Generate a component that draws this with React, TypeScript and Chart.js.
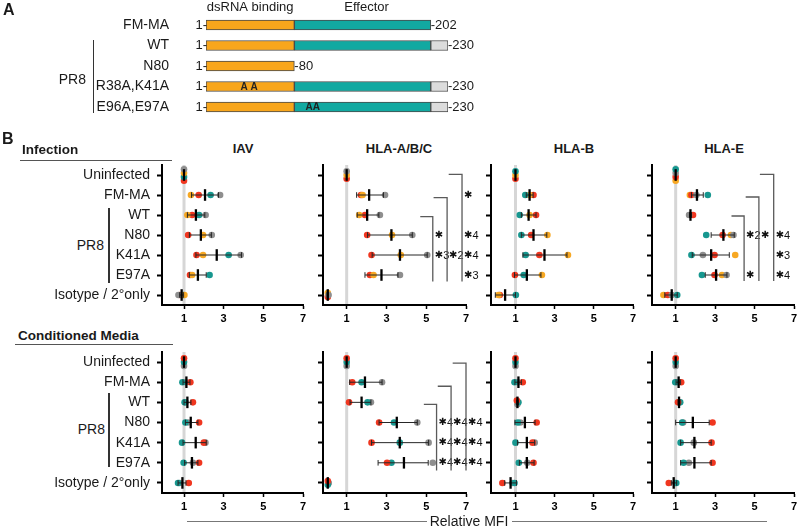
import React, { useEffect, useRef } from 'react';
import { Chart, registerables, LinearScale } from 'chart.js';

Chart.register(...registerables);

const FONT = '"Liberation Sans", Arial, Helvetica, sans-serif';
const TEXT = '#1a1a1a';

// ---------------- Panel A: NS1 constructs ----------------
const constructNames = ['FM-MA', 'WT', 'N80', 'R38A,K41A', 'E96A,E97A'];
const dsrnaDomain = [[1, 80], [1, 80], [1, 80], [1, 80], [1, 80]];
const effectorDomain = [[80, 202], [80, 202], null, [80, 202], [80, 202]];
const tailDomain = [null, [202, 230], null, [202, 230], [202, 230]];
const constructLength = [202, 230, 80, 230, 230];
const mutationSites = [null, null, null, [38, 41], [96, 97]];
const mutationText = [null, null, null, 'A A', 'AA'];
const domainNames = ['dsRNA binding', 'Effector'];

// the C-terminal tail is drawn compressed in the schematic
const TAIL_START = 202;
const TAIL_SCALE = 0.55;
const squeeze = (v: number) => (v > TAIL_START ? TAIL_START + (v - TAIL_START) * TAIL_SCALE : v);

class SchematicScale extends LinearScale {
  static id = 'schematic';
  static defaults = LinearScale.defaults;
  getPixelForValue(value: number) {
    return super.getPixelForValue(squeeze(value));
  }
}
Chart.register(SchematicScale as any);

// ---------------- Panel B: Relative MFI ----------------
const rowLabels = ['Uninfected', 'FM-MA', 'WT', 'N80', 'K41A', 'E97A', 'Isotype / 2°only'];
const xTicks = [1, 3, 5, 7];
const markerNames = ['IAV', 'HLA-A/B/C', 'HLA-B', 'HLA-E'];

// Infection – IAV
const infIavGray = [1, 2.82, 2.09, 2.4, 3.86, null, 0.72];
const infIavOrange = [1, 1.35, 1.17, 1.96, 1.96, 1.41, 1.02];
const infIavRed = [1, 1.74, 1.41, 1.21, 1.63, 1.3, 0.8];
const infIavTeal = [1, 2.34, 1.76, null, 3.25, 2.29, 0.96];
const infIavMean = [1, 2.06, 1.6, 1.85, 2.65, 1.7, 0.88];
const infIavLow = [1, 1.38, 1.17, 1.27, 1.6, 1.27, 0.78];
const infIavHigh = [1, 2.74, 2.05, 2.38, 3.9, 2.12, 0.98];

// Infection – HLA-A/B/C
const infAbcGray = [1, 2.93, 2.67, 4.3, 5.05, 3.68, 0.09];
const infAbcOrange = [1, 1.8, 1.63, 3.28, 3.72, 2.35, 0.05];
const infAbcRed = [1, 1.72, 1.92, 2.03, 2.25, 2.17, 0.05];
const infAbcMean = [1, 2.13, 2.03, 3.25, 3.68, 2.75, 0.05];
const infAbcLow = [1, 1.5, 1.53, 2.05, 2.28, 1.92, 0.02];
const infAbcHigh = [1, 2.85, 2.62, 4.3, 5.05, 3.58, 0.08];

// Infection – HLA-B
const infBTeal = [1, 1.5, 1.22, 1.3, 1.52, 1.42, 1.02];
const infBOrange = [1, 1.72, 1.72, 2.63, 3.68, 2.35, 0.13];
const infBRed = [1, 1.92, 2.05, 1.8, 2.22, 0.97, 0.2];
const infBMean = [1, 1.72, 1.67, 1.92, 2.48, 1.58, 0.47];
const infBLow = [1, 1.55, 1.3, 1.3, 1.38, 0.95, -0.03];
const infBHigh = [1, 1.9, 2.05, 2.6, 3.63, 2.3, 1.0];

// Infection – HLA-E
const infETeal = [1, 2.63, null, 2.55, 1.8, 2.33, 1.08];
const infEGray = [1, 2.05, 1.68, 3.93, 2.38, 3.58, 0.8];
const infERed = [1, 1.8, 1.88, 3.38, 2.97, 2.97, 0.6];
const infEOrange = [1, 1.72, null, 3.8, 4.02, 3.35, 0.38];
const infEMean = [1, 2.08, 1.75, 3.42, 2.8, 3.05, 0.8];
const infELow = [1, 1.8, 1.7, 2.8, 1.84, 2.5, 0.45];
const infEHigh = [1, 2.4, 1.8, 3.97, 3.72, 3.6, 1.08];

// Conditioned media – IAV
const cmIavRed = [1, 1.32, 1.45, 1.76, 2.0, 1.76, 1.24];
const cmIavTeal = [1, 0.92, 1.03, 1.07, 0.9, 0.98, 0.7];
const cmIavGray = [1, 1.1, 1.08, 1.2, 2.08, 1.45, 0.78];
const cmIavMean = [1, 1.12, 1.17, 1.34, 1.59, 1.4, 0.92];
const cmIavLow = [1, 0.95, 1.0, 1.07, 0.95, 1.03, 0.7];
const cmIavHigh = [1, 1.3, 1.35, 1.7, 2.12, 1.7, 1.1];

// Conditioned media – HLA-A/B/C
const cmAbcRed = [1, 1.28, 1.12, 2.63, 2.25, 3.03, 0.05];
const cmAbcTeal = [1, 1.75, 2.05, 3.38, 3.67, 3.25, 0.05];
const cmAbcGray = [1, 2.78, 2.22, 4.55, 5.12, 5.33, 0.1];
const cmAbcMean = [1, 1.92, 1.75, 3.52, 3.67, 3.88, 0.05];
const cmAbcLow = [1, 1.15, 1.17, 2.63, 2.25, 2.58, 0.03];
const cmAbcHigh = [1, 2.78, 2.22, 4.55, 5.12, 5.1, 0.08];

// Conditioned media – HLA-B
const cmBRed = [1, 1.37, 1.07, 2.08, 1.87, 1.92, 0.33];
const cmBTeal = [1, 0.95, 1.15, 1.12, 1.0, 1.17, 0.95];
const cmBGray = [1, 1.12, 1.1, 1.25, 1.98, 1.6, 0.85];
const cmBMean = [1, 1.15, 1.1, 1.48, 1.58, 1.58, 0.75];
const cmBLow = [1, 0.97, 1.05, 0.97, 1.1, 1.2, 0.45];
const cmBHigh = [1, 1.3, 1.15, 2.0, 1.98, 1.95, 1.05];

// Conditioned media – HLA-E
const cmERed = [1, 1.28, 1.12, 2.87, 2.82, 2.87, 0.65];
const cmETeal = [1, 0.98, 1.23, 1.33, 1.25, 1.4, 1.03];
const cmEGray = [1, 1.1, 1.18, 1.38, 1.92, 1.67, 0.98];
const cmEMean = [1, 1.15, 1.17, 1.87, 1.95, 1.95, 0.9];
const cmELow = [1, 1.02, 1.12, 1.0, 1.25, 1.25, 0.78];
const cmEHigh = [1, 1.25, 1.22, 2.7, 2.8, 2.8, 1.05];

// Significance brackets: arm from/to (row), arm start (MFI), vertical at (MFI), stars [row, label]
const infAbcBrackets = [
  { top: 2.08, bottom: 5.33, armFrom: 4.7, at: 5.33, stars: [[3, ''], [4, '3']] },
  { top: 1.13, bottom: 5.33, armFrom: 5.37, at: 6.05, stars: [[4, '2']] },
  { top: -0.03, bottom: 5.33, armFrom: 6.13, at: 6.8, stars: [[1, ''], [3, '4'], [4, '4'], [5, '3']] },
];
const infEBrackets = [
  { top: 2.05, bottom: 5.3, armFrom: 3.83, at: 4.47, stars: [[3, '2'], [5, '']] },
  { top: 1.1, bottom: 5.3, armFrom: 4.55, at: 5.22, stars: [[3, '']] },
  { top: -0.03, bottom: 5.3, armFrom: 5.27, at: 5.97, stars: [[3, '4'], [4, '3'], [5, '4']] },
];
const cmAbcBrackets = [
  { top: 2.1, bottom: 5.38, armFrom: 4.88, at: 5.52, stars: [[3, '4'], [4, '4'], [5, '4']] },
  { top: 1.2, bottom: 5.38, armFrom: 5.58, at: 6.25, stars: [[3, '4'], [4, '4'], [5, '4']] },
  { top: 0.05, bottom: 5.38, armFrom: 6.33, at: 7.0, stars: [[3, '4'], [4, '4'], [5, '4']] },
];

const COLORS: any = { gray: '#8e8e8e', orange: '#f7a823', red: '#f0361f', teal: '#17978f' };

const columns = [
  { axisX: 162, right: 303, xMin: -0.11, padRight: 16 },
  { axisX: 323, right: 466, xMin: -0.19, padRight: 22 },
  { axisX: 491, right: 633, xMin: -0.25, padRight: 8 },
  { axisX: 652, right: 794, xMin: -0.2, padRight: 6 },
];
const panelRows = [
  { top: 165, bottom: 305 },
  { top: 352, bottom: 493 },
];

const plots = [
  { row: 0, col: 0, series: { gray: infIavGray, orange: infIavOrange, teal: infIavTeal, red: infIavRed }, stack: ['gray', 'orange', 'teal', 'red'], mean: infIavMean, low: infIavLow, high: infIavHigh, brackets: [] },
  { row: 0, col: 1, series: { gray: infAbcGray, orange: infAbcOrange, red: infAbcRed }, stack: ['gray', 'orange', 'red'], mean: infAbcMean, low: infAbcLow, high: infAbcHigh, brackets: infAbcBrackets },
  { row: 0, col: 2, series: { teal: infBTeal, orange: infBOrange, red: infBRed }, stack: ['teal', 'orange', 'red'], mean: infBMean, low: infBLow, high: infBHigh, brackets: [] },
  { row: 0, col: 3, series: { teal: infETeal, gray: infEGray, red: infERed, orange: infEOrange }, stack: ['teal', 'gray', 'red', 'orange'], mean: infEMean, low: infELow, high: infEHigh, brackets: infEBrackets },
  { row: 1, col: 0, series: { red: cmIavRed, teal: cmIavTeal, gray: cmIavGray }, stack: ['red', 'teal', 'gray'], mean: cmIavMean, low: cmIavLow, high: cmIavHigh, brackets: [] },
  { row: 1, col: 1, series: { red: cmAbcRed, teal: cmAbcTeal, gray: cmAbcGray }, stack: ['red', 'teal', 'gray'], mean: cmAbcMean, low: cmAbcLow, high: cmAbcHigh, brackets: cmAbcBrackets },
  { row: 1, col: 2, series: { red: cmBRed, teal: cmBTeal, gray: cmBGray }, stack: ['red', 'teal', 'gray'], mean: cmBMean, low: cmBLow, high: cmBHigh, brackets: [] },
  { row: 1, col: 3, series: { red: cmERed, teal: cmETeal, gray: cmEGray }, stack: ['red', 'teal', 'gray'], mean: cmEMean, low: cmELow, high: cmEHigh, brackets: [] },
];

const STACK_STEP = 0.19; // rows between stacked identical points

function buildDatasets(p: any) {
  const names: string[] = p.stack;
  const out: any = {};
  names.forEach((n) => (out[n] = []));
  rowLabels.forEach((_, r) => {
    const present = names
      .map((n) => ({ n, v: p.series[n][r] }))
      .filter((q) => q.v !== null && q.v !== undefined);
    const groups: any[] = [];
    present.forEach((q) => {
      const g = groups.find((gg) => Math.abs(gg[0].v - q.v) < 0.035);
      if (g) g.push(q);
      else groups.push([q]);
    });
    groups.forEach((g) =>
      g.forEach((q: any, i: number) => {
        out[q.n].push({ x: q.v, y: r + (i - (g.length - 1) / 2) * STACK_STEP });
      })
    );
  });
  return names.map((n) => ({
    label: n,
    data: out[n],
    backgroundColor: COLORS[n],
    borderWidth: 0,
    pointRadius: 3.3,
    pointHoverRadius: 3.3,
    clip: false,
  }));
}

function drawStar(ctx: CanvasRenderingContext2D, x: number, y: number, n: string) {
  ctx.font = '10px "DejaVu Sans", sans-serif';
  ctx.textAlign = 'left';
  ctx.textBaseline = 'middle';
  ctx.fillStyle = '#111';
  ctx.fillText('✱', x, y);
  const w = ctx.measureText('✱').width;
  if (n) {
    ctx.font = `11px ${FONT}`;
    ctx.fillText(n, x + w, y + 0.5);
  }
}

function makePlotPlugin(p: any) {
  return {
    id: 'mfiMarks',
    beforeDatasetsDraw(chart: any) {
      const { ctx, chartArea } = chart;
      const xs = chart.scales.x;
      const x1 = xs.getPixelForValue(1);
      ctx.save();
      ctx.strokeStyle = '#d6d6d6';
      ctx.lineWidth = 3;
      ctx.beginPath();
      ctx.moveTo(x1, chartArea.top);
      ctx.lineTo(x1, chartArea.bottom - 1);
      ctx.stroke();
      ctx.restore();
    },
    afterDatasetsDraw(chart: any) {
      const { ctx } = chart;
      const xs = chart.scales.x;
      const ys = chart.scales.y;
      ctx.save();
      rowLabels.forEach((_, r) => {
        const y = ys.getPixelForValue(r);
        const lo = p.low[r];
        const hi = p.high[r];
        if (hi > lo) {
          const a = xs.getPixelForValue(lo);
          const b = xs.getPixelForValue(hi);
          ctx.strokeStyle = '#262626';
          ctx.lineWidth = 1;
          ctx.beginPath();
          ctx.moveTo(a, y);
          ctx.lineTo(b, y);
          ctx.moveTo(a, y - 2.8);
          ctx.lineTo(a, y + 2.8);
          ctx.moveTo(b, y - 2.8);
          ctx.lineTo(b, y + 2.8);
          ctx.stroke();
        }
        const m = xs.getPixelForValue(p.mean[r]);
        ctx.strokeStyle = '#000';
        ctx.lineWidth = 2.3;
        ctx.beginPath();
        ctx.moveTo(m, y - 5.8);
        ctx.lineTo(m, y + 5.8);
        ctx.stroke();
      });
      p.brackets.forEach((b: any) => {
        const xl = xs.getPixelForValue(b.armFrom);
        const xv = xs.getPixelForValue(b.at);
        const yt = ys.getPixelForValue(b.top);
        const yb = ys.getPixelForValue(b.bottom);
        ctx.strokeStyle = '#5a5a5a';
        ctx.lineWidth = 1.3;
        ctx.beginPath();
        ctx.moveTo(xl, yt);
        ctx.lineTo(xv, yt);
        ctx.lineTo(xv, yb);
        ctx.stroke();
        b.stars.forEach((s: any) => drawStar(ctx, xv + 2, ys.getPixelForValue(s[0]), s[1]));
      });
      ctx.restore();
    },
  };
}

function Subplot({ p }: any) {
  const ref = useRef<HTMLCanvasElement>(null);
  const col = columns[p.col];
  const geo = panelRows[p.row];
  const showLabels = p.col === 0;
  const yW = showLabels ? col.axisX : 12;
  const padTop = 6;
  const xH = 24;
  const left = col.axisX - yW;
  const top = geo.top - padTop;
  const w = yW + (col.right - col.axisX) + col.padRight;
  const h = padTop + (geo.bottom - geo.top) + xH;

  useEffect(() => {
    const chart = new Chart(ref.current as HTMLCanvasElement, {
      type: 'scatter',
      data: { datasets: buildDatasets(p) as any },
      options: {
        responsive: false,
        animation: false,
        devicePixelRatio: 1,
        events: [],
        layout: { autoPadding: false, padding: { left: 0, top: padTop, right: col.padRight, bottom: 0 } },
        plugins: { legend: { display: false }, tooltip: { enabled: false } },
        scales: {
          x: {
            type: 'linear',
            min: col.xMin,
            max: 7,
            afterBuildTicks: (s: any) => {
              s.ticks = xTicks.map((v) => ({ value: v }));
            },
            afterFit: (s: any) => {
              s.height = xH;
              s.paddingLeft = 0;
              s.paddingRight = 0;
              s.paddingTop = 0;
              s.paddingBottom = 0;
            },
            ticks: {
              autoSkip: false,
              maxRotation: 0,
              padding: 3,
              color: '#000',
              font: { family: FONT, size: 11, weight: 'bold' },
            },
            grid: { display: true, drawOnChartArea: false, drawTicks: true, tickLength: 4, tickWidth: 1.5, tickColor: '#000' },
            border: { display: true, color: '#000', width: 2 },
          },
          y: {
            type: 'linear',
            min: -0.5,
            max: 6.5,
            reverse: true,
            afterBuildTicks: (s: any) => {
              s.ticks = rowLabels.map((_, i) => ({ value: i }));
            },
            afterFit: (s: any) => {
              s.width = yW;
              s.paddingLeft = 0;
              s.paddingRight = 0;
              s.paddingTop = 0;
              s.paddingBottom = 0;
            },
            ticks: {
              autoSkip: false,
              padding: 7,
              color: TEXT,
              font: { family: FONT, size: 14 },
              callback: (v: any) => (showLabels ? rowLabels[v] : ''),
            },
            grid: { display: true, drawOnChartArea: false, drawTicks: true, tickLength: 5, tickWidth: 2, tickColor: '#000' },
            border: { display: true, color: '#000', width: 2 },
          },
        },
      } as any,
      plugins: [makePlotPlugin(p)],
    });
    return () => chart.destroy();
  }, []);

  return (
    <canvas
      ref={ref}
      width={w}
      height={h}
      style={{ position: 'absolute', left, top, width: w, height: h }}
    />
  );
}

const panelAPlugin = {
  id: 'panelAText',
  afterDatasetsDraw(chart: any) {
    const { ctx } = chart;
    const xs = chart.scales.x;
    const ys = chart.scales.y;
    ctx.save();
    ctx.fillStyle = TEXT;
    ctx.textBaseline = 'middle';
    ctx.font = `13px ${FONT}`;
    constructNames.forEach((_, i) => {
      const y = ys.getPixelForValue(i);
      ctx.textAlign = 'right';
      ctx.fillText('1-', xs.getPixelForValue(1) + 1, y);
      ctx.textAlign = 'left';
      ctx.fillText('-' + constructLength[i], xs.getPixelForValue(constructLength[i]), y);
    });
    ctx.font = `bold 10px ${FONT}`;
    ctx.textAlign = 'center';
    ctx.fillStyle = '#222';
    mutationSites.forEach((s, i) => {
      if (!s) return;
      const cx = (xs.getPixelForValue(s[0]) + xs.getPixelForValue(s[1])) / 2;
      ctx.fillText(mutationText[i] as string, cx, ys.getPixelForValue(i) + 0.5);
    });
    ctx.font = `13px ${FONT}`;
    ctx.fillStyle = TEXT;
    ctx.fillText(domainNames[0], (xs.getPixelForValue(1) + xs.getPixelForValue(80)) / 2, 7);
    ctx.fillText(domainNames[1], (xs.getPixelForValue(80) + xs.getPixelForValue(202)) / 2 + 4, 7);
    ctx.restore();
  },
};

function PanelA() {
  const ref = useRef<HTMLCanvasElement>(null);
  useEffect(() => {
    const barOpts = { grouped: false, barThickness: 10, borderColor: '#4a4a4a', borderWidth: 1, borderSkipped: false };
    const chart = new Chart(ref.current as HTMLCanvasElement, {
      type: 'bar',
      data: {
        labels: constructNames,
        datasets: [
          { label: domainNames[0], data: dsrnaDomain as any, backgroundColor: '#f8a61c', ...barOpts },
          { label: domainNames[1], data: effectorDomain as any, backgroundColor: '#12a9a1', ...barOpts },
          { label: 'C-terminus', data: tailDomain as any, backgroundColor: '#dcdcdc', ...barOpts },
        ],
      },
      options: {
        indexAxis: 'y',
        responsive: false,
        animation: false,
        devicePixelRatio: 1,
        events: [],
        layout: { autoPadding: false, padding: { left: 0, right: 42, top: 14.75, bottom: 2.75 } },
        plugins: { legend: { display: false }, tooltip: { enabled: false } },
        scales: {
          x: {
            type: 'schematic',
            display: true,
            min: 1,
            max: squeeze(230),
            ticks: { display: false },
            grid: { display: false },
            border: { display: false },
            afterFit: (s: any) => {
              s.height = 0;
              s.paddingLeft = 0;
              s.paddingRight = 0;
              s.paddingTop = 0;
              s.paddingBottom = 0;
            },
          },
          y: {
            type: 'category',
            offset: true,
            afterFit: (s: any) => {
              s.width = 206;
              s.paddingLeft = 0;
              s.paddingRight = 0;
              s.paddingTop = 0;
              s.paddingBottom = 0;
            },
            grid: { display: false },
            border: { display: false },
            ticks: { autoSkip: false, padding: 29, color: TEXT, font: { family: FONT, size: 14 } },
          },
        },
      } as any,
      plugins: [panelAPlugin],
    });
    return () => chart.destroy();
  }, []);
  return <canvas ref={ref} width={490} height={120} style={{ position: 'absolute', left: 0, top: 0, width: 490, height: 120 }} />;
}

function Label({ x, y, text, size = 14, bold = false, align = 'left' }: any) {
  const tx = align === 'center' ? '-50%' : align === 'right' ? '-100%' : '0';
  return (
    <div
      style={{
        position: 'absolute',
        left: x,
        top: y,
        transform: `translate(${tx}, -50%)`,
        whiteSpace: 'nowrap',
        lineHeight: 1,
        fontFamily: FONT,
        fontSize: size,
        fontWeight: bold ? 'bold' : 'normal',
        color: TEXT,
      }}
    >
      {text}
    </div>
  );
}

function Rule({ x, y, w, h, color = '#555' }: any) {
  return <div style={{ position: 'absolute', left: x, top: y, width: w, height: h, background: color }} />;
}

const titleCenters = [243, 399, 574, 724];

export default function App() {
  return (
    <div style={{ position: 'absolute', left: 0, top: 0, width: 800, height: 527, background: '#fff', overflow: 'hidden' }}>
      <PanelA />
      <Label x={3} y={10} text="A" size={16} bold />
      <Label x={86} y={79} text="PR8" align="right" />
      <Rule x={92.5} y={40} w={1.5} h={73} color="#333" />

      <Label x={2} y={139} text="B" size={16} bold />
      <Label x={22} y={150} text="Infection" size={13.5} bold />
      <Rule x={20} y={159.5} w={152} h={1.5} />
      <Label x={18} y={336} text="Conditioned Media" size={13.5} bold />
      <Rule x={15} y={343.5} w={158} h={1.5} />

      {markerNames.map((m, i) => (
        <Label key={m} x={titleCenters[i]} y={148} text={m} size={13} bold align="center" />
      ))}

      <Label x={104} y={245} text="PR8" align="right" />
      <Rule x={108} y={208} w={1.5} h={75} color="#333" />
      <Label x={105} y={429} text="PR8" align="right" />
      <Rule x={108} y={393} w={1.5} h={74} color="#333" />

      {plots.map((p, i) => (
        <Subplot key={i} p={p} />
      ))}

      <Rule x={187} y={521} w={240} h={1} color="#777" />
      <Label x={469} y={521} text="Relative MFI" size={14} align="center" />
      <Rule x={512} y={521} w={255} h={1} color="#777" />
    </div>
  );
}
